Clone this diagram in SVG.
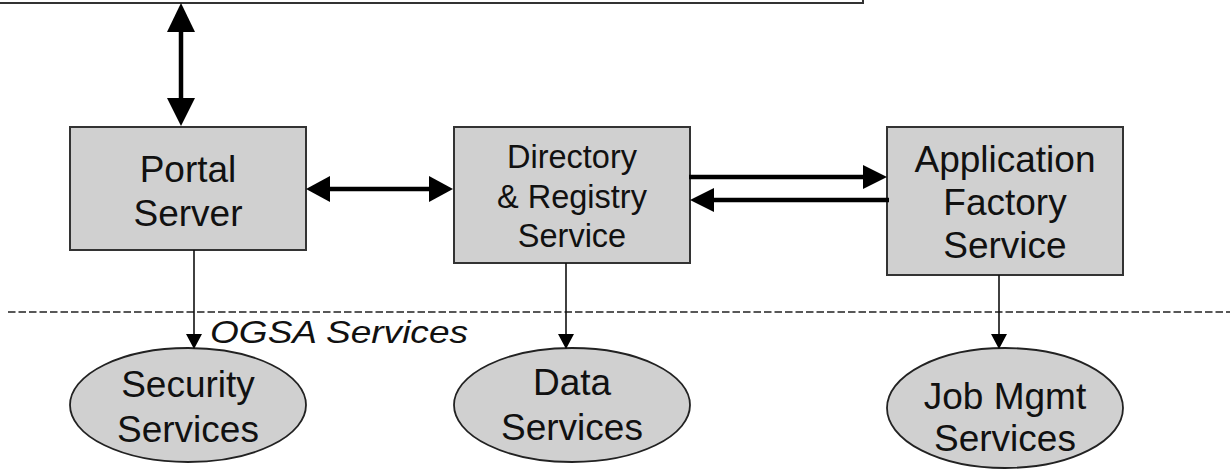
<svg xmlns="http://www.w3.org/2000/svg" width="1230" height="470" viewBox="0 0 1230 470">
<style>
.box{fill:#d0d0d0;stroke:#333;stroke-width:2}
.ell{fill:#d0d0d0;stroke:#222;stroke-width:1.8}
.t{font-family:"Liberation Sans",Arial,sans-serif;font-size:37px;fill:#111;text-anchor:middle}
.ts{font-family:"Liberation Sans",Arial,sans-serif;font-size:32.5px;fill:#111;text-anchor:middle}
.thick{stroke:#000;stroke-width:4.5;fill:none}
.thin{stroke:#111;stroke-width:1.6;fill:none}
.head{fill:#000}
</style>
<rect width="1230" height="470" fill="#fff"/>
<g id="top-frame">
<path d="M -5 3 L 863 3 L 863 -5" fill="none" stroke="#333" stroke-width="2"/>
</g>
<g id="portal-server">
<rect class="box" x="70" y="127" width="236" height="123"/>
<text class="t" x="188" y="182">Portal</text>
<text class="t" x="188" y="226">Server</text>
</g>
<g id="directory-registry">
<rect class="box" x="454" y="127" width="236" height="136"/>
<text class="ts" x="572" y="168">Directory</text>
<text class="ts" x="572" y="208">&amp; Registry</text>
<text class="ts" x="572" y="247">Service</text>
</g>
<g id="application-factory">
<rect class="box" x="887" y="127" width="236" height="148"/>
<text class="t" x="1005" y="172">Application</text>
<text class="t" x="1005" y="215">Factory</text>
<text class="t" x="1005" y="258">Service</text>
</g>
<g id="security-services">
<ellipse class="ell" cx="188" cy="405" rx="118" ry="57"/>
<text class="t" x="188" y="397">Security</text>
<text class="t" x="188" y="442">Services</text>
</g>
<g id="data-services">
<ellipse class="ell" cx="572" cy="405" rx="118" ry="57"/>
<text class="t" x="572" y="395">Data</text>
<text class="t" x="572" y="440">Services</text>
</g>
<g id="job-mgmt-services">
<ellipse class="ell" cx="1005" cy="408" rx="118" ry="60"/>
<text class="t" x="1005" y="409">Job Mgmt</text>
<text class="t" x="1005" y="451">Services</text>
</g>
<g id="ogsa-boundary">
<line x1="8" y1="312" x2="1230" y2="312" stroke="#222" stroke-width="1.6" stroke-dasharray="7.5 3"/>
<text x="210" y="343" font-family="'Liberation Sans',Arial,sans-serif" font-size="32" font-style="italic" fill="#111" textLength="258" lengthAdjust="spacingAndGlyphs">OGSA Services</text>
</g>
<g id="connectors">
<line class="thick" x1="181" y1="30" x2="181" y2="100"/>
<polygon class="head" points="181,3 167,32 195,32"/>
<polygon class="head" points="181,126 167,98 195,98"/>
<line class="thick" x1="326" y1="189" x2="433" y2="189"/>
<polygon class="head" points="306,189 330,176 330,202"/>
<polygon class="head" points="453,189 429,176 429,202"/>
<line class="thick" x1="689" y1="177" x2="866" y2="177"/>
<polygon class="head" points="887,177 863,165 863,189"/>
<line class="thick" x1="710" y1="200" x2="889" y2="200"/>
<polygon class="head" points="690,200 714,188 714,212"/>
<line class="thin" x1="194" y1="250" x2="194" y2="337"/>
<polygon class="head" points="194,349 186,334 202,334"/>
<line class="thin" x1="566" y1="263" x2="566" y2="337"/>
<polygon class="head" points="566,349 558,334 574,334"/>
<line class="thin" x1="999" y1="275" x2="999" y2="337"/>
<polygon class="head" points="999,349 991,334 1007,334"/>
</g>
</svg>
